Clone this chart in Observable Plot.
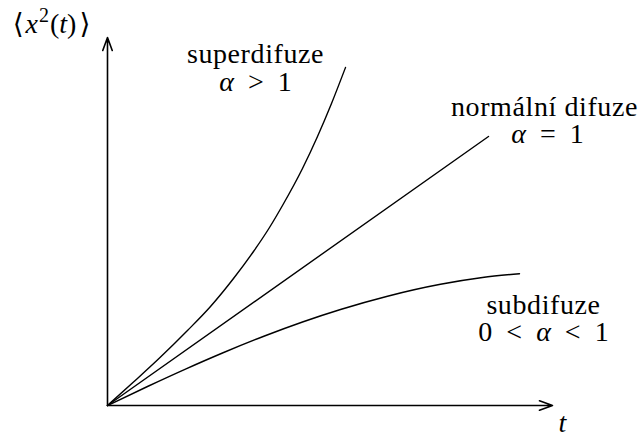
<!DOCTYPE html>
<html>
<head>
<meta charset="utf-8">
<script src="https://cdn.jsdelivr.net/npm/d3@7"></script>
<script src="https://cdn.jsdelivr.net/npm/@observablehq/plot@0.6"></script>
<style>
  body { margin: 0; background: #fff; }
  #chart svg { display: block; overflow: visible; }
  #chart svg text, #chart svg tspan { font-family: "Liberation Serif", "DejaVu Serif", serif; }
</style>
</head>
<body>
<div id="chart"></div>
<script>
// Mean squared displacement <x²(t)> versus time for three diffusion regimes
// (arbitrary units; only the shape of each curve matters).

// Normal diffusion: straight line, alpha = 1
const normalT = [0, 381];
const normalMsd = [0, 269];

// Superdiffusion: alpha > 1, bends upward
const superT = [0, 26, 52, 80, 103, 126, 146, 162, 175, 195, 210, 224, 238];
const superMsd = [0, 23.5, 47.5, 75, 99, 127, 154, 178, 200, 237, 269, 302, 338];

// Subdiffusion: 0 < alpha < 1, flattens out
const subT = [0, 40, 78, 115, 157, 195, 233, 280, 333, 375, 412];
const subMsd = [0, 19, 36.4, 52.5, 69.5, 83.5, 96, 109.3, 121.2, 128, 131.8];

// Extent of the two axes (arrow tips)
const tMax = 445;
const msdMax = 368;

// Annotation lines and their anchor points (data units, baseline-anchored)
const labelText = [
  "superdifuze", "α > 1",
  "normální difuze", "α = 1",
  "subdifuze", "0 < α < 1",
  "t", "⟨x2(t)⟩"
];
const labelT = [148, 148, 437, 440, 436, 436, 455, -56];
const labelMsd = [343, 315, 290, 263, 92, 65, -26, 373];

const toPoints = (ts, ys) => ts.map((t, i) => ({t, msd: ys[i]}));
const curves = [
  ...toPoints(superT, superMsd).map(d => ({...d, regime: "super"})),
  ...toPoints(normalT, normalMsd).map(d => ({...d, regime: "normal"})),
  ...toPoints(subT, subMsd).map(d => ({...d, regime: "sub"}))
];
const labels = labelText.map((text, i) => ({text, t: labelT[i], msd: labelMsd[i]}));
const axes = [
  {t1: 0, m1: 0, t2: tMax, m2: 0},
  {t1: 0, m1: 0, t2: 0, m2: msdMax}
];

const serif = "Liberation Serif";

const chart = Plot.plot({
  width: 644,
  height: 436,
  marginLeft: 107,
  marginRight: 92,
  marginTop: 37,
  marginBottom: 31,
  x: {domain: [0, tMax], axis: null},
  y: {domain: [0, msdMax], axis: null},
  style: {background: "#fff", color: "#000", fontFamily: serif, overflow: "visible"},
  marks: [
    Plot.arrow(axes, {
      x1: "t1", y1: "m1", x2: "t2", y2: "m2",
      stroke: "#000", strokeWidth: 1.6,
      headLength: 13, headAngle: 40
    }),
    Plot.line(curves, {
      x: "t", y: "msd", z: "regime",
      curve: "monotone-x",
      stroke: "#000", strokeWidth: 1.4
    }),
    Plot.text(labels, {
      x: "t", y: "msd", text: "text",
      lineAnchor: "bottom", textAnchor: "middle",
      fontSize: 28, fill: "#000", fontFamily: serif
    })
  ]
});

// Typeset the math parts: italic symbols, raised exponent
const mathParts = {
  "α > 1": [["α", "i"], ["\u2002>\u20021", ""]],
  "α = 1": [["α", "i"], ["\u2002=\u20021", ""]],
  "0 < α < 1": [["0\u2002<\u2002", ""], ["α", "i"], ["\u2002<\u20021", ""]],
  "t": [["t", "i"]],
  "⟨x2(t)⟩": [["⟨", ""], ["x", "i", 2], ["2", "sup", 1], ["(", "base", 1], ["t", "i"], [")", ""], ["⟩", "", 3]]
};
d3.select(chart).selectAll("text").each(function () {
  const el = d3.select(this);
  const parts = mathParts[this.textContent];
  if (!parts) {
    el.attr("letter-spacing", 0.6);
    return;
  }
  el.text(null);
  for (const [s, kind, dx] of parts) {
    const span = el.append("tspan").text(s);
    if (dx) span.attr("dx", dx);
    if (kind === "i") span.attr("font-style", "italic");
    if (kind === "sup") span.attr("font-size", 20).attr("dy", -11);
    if (kind === "base") span.attr("dy", 11);
  }
});

document.getElementById("chart").appendChild(chart);
</script>
</body>
</html>
